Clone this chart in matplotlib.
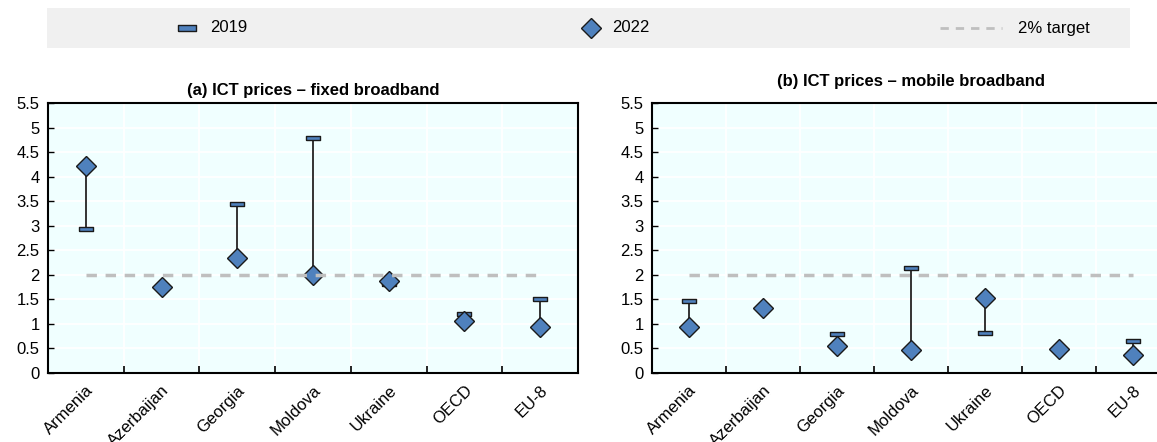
import matplotlib.pyplot as plt
from matplotlib.lines import Line2D
from matplotlib.patches import Rectangle

plt.rcParams['font.family'] = ['Liberation Sans Narrow', 'Liberation Sans', 'DejaVu Sans']

countries = ["Armenia", "Azerbaijan", "Georgia", "Moldova", "Ukraine", "OECD", "EU-8"]

# (a) fixed broadband, % of GNI per capita
fixed_2019 = [2.94, 1.76, 3.45, 4.79, 1.82, 1.21, 1.51]
fixed_2022 = [4.21, 1.75, 2.35, 2.00, 1.87, 1.07, 0.94]

# (b) mobile broadband
mobile_2019 = [1.46, 1.33, 0.79, 2.14, 0.82, 0.48, 0.65]
mobile_2022 = [0.94, 1.33, 0.55, 0.46, 1.53, 0.48, 0.36]

target = 2.0
yticks = [0, 0.5, 1, 1.5, 2, 2.5, 3, 3.5, 4, 4.5, 5, 5.5]
ytick_labels = ["0", "0.5", "1", "1.5", "2", "2.5", "3", "3.5", "4", "4.5", "5", "5.5"]

BLUE = "#4F81BD"
EDGE = "#1a1a1a"
BAR = [(-1, -0.3), (1, -0.3), (1, 0.3), (-1, 0.3), (-1, -0.3)]


def panel(ax, v19, v22, title, title_pad):
    x = list(range(len(countries)))
    ax.set_facecolor("#F0FFFF")
    for i in x:
        ax.plot([i, i], [v19[i], v22[i]], color="#333333", lw=1.4, zorder=2)
    ax.plot(x, v19, ls="none", marker=BAR, ms=10, mfc=BLUE, mec=EDGE, mew=1, zorder=3)
    ax.plot(x, v22, ls="none", marker="D", ms=10.5, mfc=BLUE, mec=EDGE, mew=1, zorder=3)
    ax.hlines(target, 0, len(countries) - 1, colors="#BFBFBF", lw=2.5,
              linestyles=(0, (3, 2.5)), zorder=4)

    ax.set_xlim(-0.5, len(countries) - 0.5)
    ax.set_ylim(0, 5.5)
    ax.set_yticks(yticks)
    ax.set_yticklabels(ytick_labels)
    ax.set_xticks(x)
    ax.set_xticklabels(countries, rotation=45, ha="right", rotation_mode="anchor")
    ax.set_xticks([i + 0.5 for i in x[:-1]], minor=True)
    ax.tick_params(axis="x", which="major", length=0, pad=7, labelsize=12)
    ax.tick_params(axis="x", which="minor", direction="in", length=5, width=1.2)
    ax.tick_params(axis="y", direction="in", length=4, width=1, labelsize=12, pad=6)
    ax.grid(True, axis="y", which="major", color="white", lw=1.3)
    ax.grid(True, axis="x", which="minor", color="white", lw=1.3)
    ax.set_axisbelow(True)
    for s in ax.spines.values():
        s.set_linewidth(1.5)
        s.set_color("black")
    ax.set_title(title, fontsize=12, fontweight="bold", pad=title_pad)


fig = plt.figure(figsize=(11.57, 4.42), dpi=100)
ax1 = fig.add_axes([0.0415, 0.156, 0.458, 0.611])
ax2 = fig.add_axes([0.5635, 0.156, 0.4477, 0.611])

panel(ax1, fixed_2019, fixed_2022, "(a) ICT prices – fixed broadband", 6)
panel(ax2, mobile_2019, mobile_2022, "(b) ICT prices – mobile broadband", 12)

# legend strip
fig.patches.append(Rectangle((47 / 1157, 1 - 48 / 442), 1083 / 1157, 40 / 442,
                             transform=fig.transFigure, facecolor="#F0F0F0",
                             edgecolor="none", zorder=0))
ly = 1 - 28 / 442
fig.add_artist(Line2D([187 / 1157], [ly], marker=BAR, ms=13, mfc=BLUE, mec=EDGE,
                      mew=1, ls="none", transform=fig.transFigure))
fig.text(210 / 1157, ly, "2019", fontsize=12, va="center")
fig.add_artist(Line2D([591 / 1157], [ly], marker="D", ms=10, mfc=BLUE, mec=EDGE,
                      mew=1, ls="none", transform=fig.transFigure))
fig.text(612 / 1157, ly, "2022", fontsize=12, va="center")
fig.add_artist(Line2D([940 / 1157, 1002 / 1157], [ly, ly], color="#BFBFBF", lw=2,
                      ls=(0, (3, 2.5)), transform=fig.transFigure))
fig.text(1018 / 1157, ly, "2% target", fontsize=12, va="center")

fig.savefig("out.png", dpi=100)
